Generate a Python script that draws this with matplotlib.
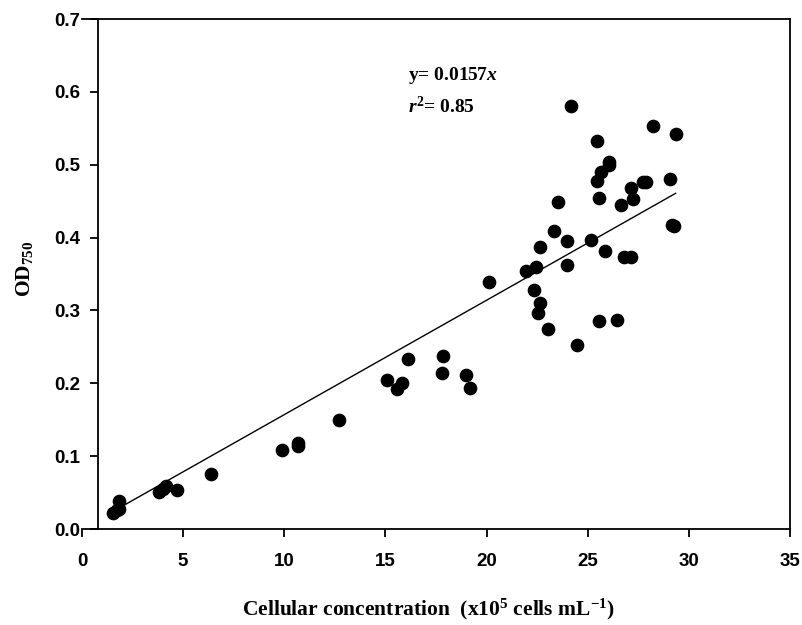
import numpy as np
import matplotlib
matplotlib.use("Agg")
import matplotlib.pyplot as plt

plt.rcParams['mathtext.fontset'] = 'custom'
plt.rcParams['mathtext.rm'] = 'Liberation Serif:bold'
plt.rcParams['mathtext.bf'] = 'Liberation Serif:bold'
plt.rcParams['mathtext.it'] = 'Liberation Serif:bold:italic'

# cell concentration (x10^5 cells/mL) and OD750 readings
cells = [1.55, 1.83, 1.85, 1.71, 3.82, 4.15, 4.02, 4.71, 6.38, 9.90,
         10.68, 10.68, 12.72, 15.09, 15.59, 15.80, 16.10, 17.83, 17.80, 18.98,
         19.18, 20.14, 21.95, 22.44, 22.34, 22.64, 22.54, 22.64, 23.04, 23.35,
         23.55, 23.96, 23.96, 24.16, 24.45, 25.15, 25.44, 25.44, 25.56, 25.56,
         25.66, 25.85, 26.04, 26.04, 26.45, 26.65, 26.79, 27.15, 27.14, 27.25,
         27.72, 27.88, 28.24, 29.05, 29.17, 29.27, 29.35]
od750 = [0.022, 0.038, 0.028, 0.026, 0.051, 0.059, 0.055, 0.054, 0.076, 0.109,
         0.118, 0.114, 0.150, 0.204, 0.192, 0.201, 0.233, 0.237, 0.214, 0.211,
         0.194, 0.339, 0.354, 0.359, 0.328, 0.310, 0.297, 0.387, 0.274, 0.409,
         0.449, 0.395, 0.363, 0.580, 0.253, 0.396, 0.533, 0.478, 0.454, 0.286,
         0.490, 0.382, 0.504, 0.499, 0.287, 0.445, 0.373, 0.373, 0.468, 0.453,
         0.476, 0.476, 0.553, 0.480, 0.417, 0.416, 0.542]
slope = 0.0157
r2 = 0.85

x = np.array(cells)
y = np.array(od750)

fig = plt.figure(figsize=(8.03, 6.25), dpi=100)
ax = fig.add_axes([82/803, 1-529/625, (790-82)/803, (529-19)/625])

ax.scatter(x, y, s=78, color='black', zorder=3, clip_on=False)
xf = np.array([x.min(), x.max()])
ax.plot(xf, slope*xf, color='black', lw=1.0)

ax.set_xlim(0, 35)
ax.set_ylim(0, 0.7)
ax.spines['left'].set_position(('data', 0.8))
for sp in ax.spines.values():
    sp.set_linewidth(1.3)

ax.set_xticks(np.arange(0, 36, 5))
ax.set_yticks(np.arange(0, 0.71, 0.1))
ax.set_yticklabels(['%.1f' % v for v in np.arange(0, 0.71, 0.1)])
ax.tick_params(direction='out', length=6, width=1.3, labelsize=13.5)
ax.tick_params(axis='x', pad=11)
ax.tick_params(axis='y', pad=7)
for lab in ax.get_xticklabels() + ax.get_yticklabels():
    lab.set_family('Liberation Sans')
    lab.set_fontweight('bold')

ax.set_xlabel(r'Cellular concentration  (x10$^{5}$ cells mL$^{-1}$)',
              family='Liberation Serif', fontweight='bold', fontsize=15.5)
ax.xaxis.set_label_coords(0.49, -0.132)
ax.set_ylabel(r'OD$_{750}$', family='Liberation Serif', fontweight='bold',
              fontsize=15.5)
ax.yaxis.set_label_coords(-0.066, 0.51)

ax.text(16.1, 0.616, r'y= 0.0157$x$', family='Liberation Serif', fontweight='bold',
        fontsize=14, va='baseline')
ax.text(16.1, 0.571, r'$r^{2}$= 0.85', family='Liberation Serif', fontweight='bold',
        fontsize=14, va='baseline')

fig.savefig('out.png', dpi=100)
